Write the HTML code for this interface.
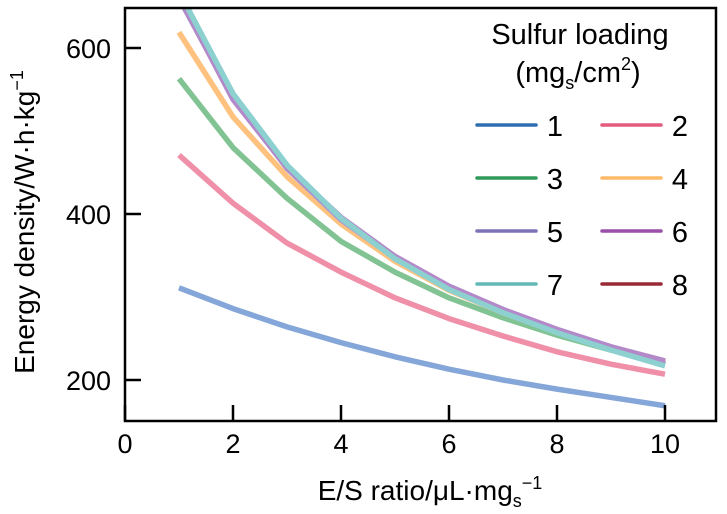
<!DOCTYPE html>
<html><head><meta charset="utf-8"><style>
html,body{margin:0;padding:0;background:#fff;}
svg{display:block;font-family:"Liberation Sans",Arial,sans-serif;}
</style></head><body>
<svg id="chart" width="727" height="514" viewBox="0 0 727 514">
<defs><clipPath id="clip"><rect x="125" y="8" width="591" height="413"/></clipPath></defs>
<g id="series" clip-path="url(#clip)"></g>
<rect x="125" y="8" width="591" height="413" fill="none" stroke="#000" stroke-width="2.5"/>
<g id="ticks"></g>
<text x="34" y="222" font-size="28" text-anchor="middle" transform="rotate(-90 34 222)">Energy density/W·h·kg<tspan dy="-11" font-size="18">−1</tspan></text>
<text x="430" y="500" font-size="28" text-anchor="middle">E/S ratio/μL·mg<tspan dy="7" font-size="18">s</tspan><tspan dy="-18" font-size="18">−1</tspan></text>
<text x="580" y="44" font-size="29" text-anchor="middle">Sulfur loading</text>
<text x="578" y="82" font-size="29" text-anchor="middle">(mg<tspan dy="7" font-size="18">s</tspan><tspan dy="-7">/cm</tspan><tspan dy="-12" font-size="18">2</tspan><tspan dy="12">)</tspan></text>
<g id="legend"></g>
</svg>
<script>
const esRatio = [1,2,3,4,5,6,7,8,9,10];
const loadings = ['1','2','3','4','5','6','7','8'];
const s1 = [311,286,264,245,228,213,200,189,179,169];
const s2 = [471,413,365,330,299,274,253,234,219,207];
const s3 = [563,480,419,367,330,299,275,254,236,222];
const s4 = [619,517,445,388,343,308,281,258,239,222];
const s5 = [660,540,455,393,347,311,283,259,238,220];
const s6 = [662,538,456,396,349,313,285,261,240,223];
const s7 = [668,545,459,395,346,309,281,257,236,217];
const s8 = [665,542,457,394,347,311,283,259,238,219];
const xTicks = [0,2,4,6,8,10];
const yTicks = [200,400,600];
const lineColors = ['#85a6d8','#ef90a8','#82c393','#fec27e','#a79ad3','#b389c9','#8dd0d0','#a1424c'];
const legendColors = ['#2e6db0','#e45b7e','#2f9a5a','#fdba6a','#7d72b8','#9a4fa8','#62b9b5','#9a2a35'];
const drawOrder = [0,1,2,3,7,4,5,6];
const NS='http://www.w3.org/2000/svg';
const xs = v => 125 + v*54;
const ys = v => 546 - v*0.83;
const g = document.getElementById('series');
const seriesData=[s1,s2,s3,s4,s5,s6,s7,s8];
drawOrder.forEach(i=>{
  const p=document.createElementNS(NS,'polyline');
  p.setAttribute('points', seriesData[i].map((v,k)=>xs(esRatio[k])+','+ys(v)).join(' '));
  p.setAttribute('fill','none');p.setAttribute('stroke',lineColors[i]);
  p.setAttribute('stroke-width','5.5');p.setAttribute('stroke-linejoin','round');
  
  
  g.appendChild(p);
});
const t=document.getElementById('ticks');
xTicks.forEach(v=>{
  const l=document.createElementNS(NS,'line');
  l.setAttribute('x1',xs(v));l.setAttribute('x2',xs(v));l.setAttribute('y1',421);l.setAttribute('y2',405);
  l.setAttribute('stroke','#000');l.setAttribute('stroke-width','2.5');
  
  
  t.appendChild(l);
  const tx=document.createElementNS(NS,'text');
  tx.setAttribute('x',xs(v));tx.setAttribute('y',453);tx.setAttribute('font-size','27');tx.setAttribute('text-anchor','middle');
  tx.textContent=v;
  
  
  t.appendChild(tx);
});
yTicks.forEach(v=>{
  const l=document.createElementNS(NS,'line');
  l.setAttribute('x1',125);l.setAttribute('x2',141);l.setAttribute('y1',ys(v));l.setAttribute('y2',ys(v));
  l.setAttribute('stroke','#000');l.setAttribute('stroke-width','2.5');
  
  
  t.appendChild(l);
  const tx=document.createElementNS(NS,'text');
  tx.setAttribute('x',111);tx.setAttribute('y',ys(v)+10);tx.setAttribute('font-size','27');tx.setAttribute('text-anchor','end');
  tx.textContent=v;
  
  
  t.appendChild(tx);
});
const lg=document.getElementById('legend');
loadings.forEach((name,i)=>{
  const col=i%2,row=Math.floor(i/2);
  const x0=col?602:477, y0=125+row*53;
  const l=document.createElementNS(NS,'line');
  l.setAttribute('x1',x0);l.setAttribute('x2',x0+59);l.setAttribute('y1',y0);l.setAttribute('y2',y0);
  l.setAttribute('stroke',legendColors[i]);l.setAttribute('stroke-width','3.5');l.setAttribute('stroke-linecap','round');
  
  
  lg.appendChild(l);
  const tx=document.createElementNS(NS,'text');
  tx.setAttribute('x',x0+78);tx.setAttribute('y',y0+11);tx.setAttribute('font-size','29');tx.setAttribute('text-anchor','middle');
  tx.textContent=name;
  
  
  lg.appendChild(tx);
});
</script>
</body></html>
